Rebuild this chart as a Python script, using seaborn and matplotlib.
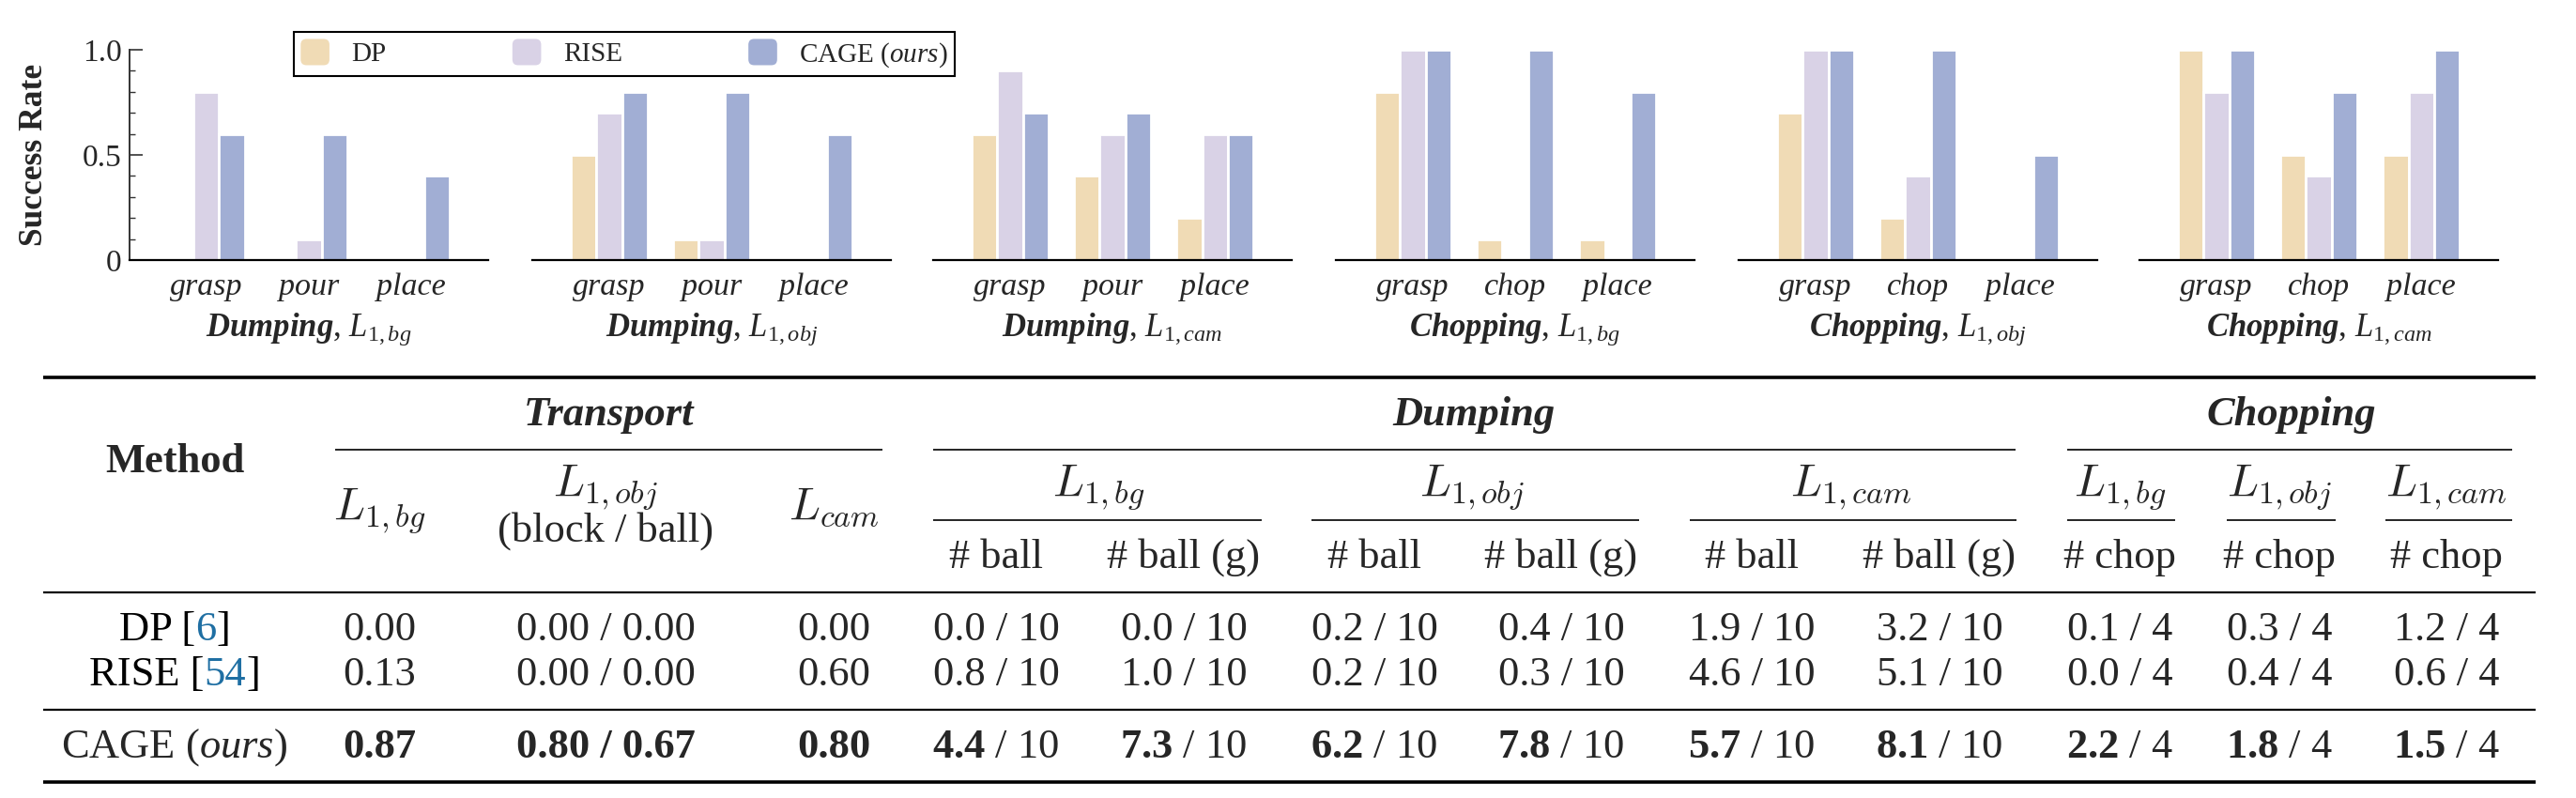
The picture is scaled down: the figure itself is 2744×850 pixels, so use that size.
import numpy as np
import pandas as pd
import matplotlib
matplotlib.use("Agg")
import matplotlib.pyplot as plt
import seaborn as sns
from matplotlib.patches import Patch, FancyBboxPatch
from matplotlib.legend_handler import HandlerPatch
from matplotlib.ticker import MultipleLocator

# ---- bar chart data ----
methods = ["DP", "RISE", "CAGE"]
legend_labels = ["DP", "RISE", r"CAGE ($\mathit{ours}$)"]
colors = ["#F0DBB5", "#D9D2E6", "#A1AED4"]

panel_task = ["Dumping", "Dumping", "Dumping", "Chopping", "Chopping", "Chopping"]
panel_level = ["1,bg", "1,obj", "1,cam", "1,bg", "1,obj", "1,cam"]
dump_stages = ["grasp", "pour", "place"]
chop_stages = ["grasp", "chop", "place"]

dp_rate = [[0.0, 0.0, 0.0], [0.5, 0.1, 0.0], [0.6, 0.4, 0.2],
           [0.8, 0.1, 0.1], [0.7, 0.2, 0.0], [1.0, 0.5, 0.5]]
rise_rate = [[0.8, 0.1, 0.0], [0.7, 0.1, 0.0], [0.9, 0.6, 0.6],
             [1.0, 0.0, 0.0], [1.0, 0.4, 0.0], [0.8, 0.4, 0.8]]
cage_rate = [[0.6, 0.6, 0.4], [0.8, 0.8, 0.6], [0.7, 0.7, 0.6],
             [1.0, 1.0, 0.8], [1.0, 1.0, 0.5], [1.0, 0.8, 1.0]]

# ---- table data ----
row_names = ["DP", "RISE", "CAGE"]
row_refs = ["6", "54", None]
tr_bg = ["0.00", "0.13", "0.87"]
tr_obj = ["0.00 / 0.00", "0.00 / 0.00", "0.80 / 0.67"]
tr_cam = ["0.00", "0.60", "0.80"]
dump_bg_ball = ["0.0", "0.8", "4.4"]
dump_bg_ballg = ["0.0", "1.0", "7.3"]
dump_obj_ball = ["0.2", "0.2", "6.2"]
dump_obj_ballg = ["0.4", "0.3", "7.8"]
dump_cam_ball = ["1.9", "4.6", "5.7"]
dump_cam_ballg = ["3.2", "5.1", "8.1"]
chop_bg = ["0.1", "0.0", "2.2"]
chop_obj = ["0.3", "0.4", "1.8"]
chop_cam = ["1.2", "0.6", "1.5"]

sns.set_theme(style="white")
plt.rcParams["font.family"] = ["Liberation Serif", "DejaVu Serif"]
plt.rcParams["mathtext.fontset"] = "custom"
plt.rcParams["mathtext.rm"] = "Liberation Serif"
plt.rcParams["mathtext.it"] = "Liberation Serif:italic"
plt.rcParams["mathtext.bf"] = "Liberation Serif:bold"
plt.rcParams["mathtext.bfit"] = "Liberation Serif:italic:bold"

W, H = 2744, 850
fig = plt.figure(figsize=(W / 100, H / 100), dpi=100)

lefts = [138, 567, 994, 1423, 1852, 2279]
ax_w, ax_top, ax_bot = 382, 53, 277

for i in range(6):
    stages = dump_stages if panel_task[i] == "Dumping" else chop_stages
    df = pd.DataFrame({
        "stage": stages * 3,
        "method": np.repeat(methods, 3),
        "rate": dp_rate[i] + rise_rate[i] + cage_rate[i],
    })
    ax = fig.add_axes([lefts[i] / W, 1 - ax_bot / H, ax_w / W, (ax_bot - ax_top) / H])
    sns.barplot(data=df, x="stage", y="rate", hue="method", hue_order=methods,
                order=stages, palette=colors, saturation=1, width=0.75,
                edgecolor="white", linewidth=2, legend=False, ax=ax)
    ax.set_xlim(-0.75, 2.75)
    ax.set_ylim(0, 1)
    ax.set_ylabel("")
    ax.set_xticks(range(3))
    ax.set_xticklabels(stages, fontstyle="italic", fontsize=24.5)
    ax.tick_params(axis="x", length=0, pad=10)
    ax.set_xlabel(rf"$\mathbfit{{{panel_task[i]}}}$, $L_{{\mathit{{{panel_level[i]}}}}}$",
                  fontsize=25, labelpad=7)
    for s in ["top", "right"]:
        ax.spines[s].set_visible(False)
    ax.spines["bottom"].set_color("black")
    ax.spines["bottom"].set_linewidth(1.6)
    if i == 0:
        ax.set_yticks([0, 0.5, 1.0], ["0", "0.5", "1.0"], fontsize=24)
        ax.yaxis.set_minor_locator(MultipleLocator(0.1))
        ax.tick_params(axis="y", which="major", direction="in", length=10, width=1.2,
                       color="#333333", pad=6, left=True)
        ax.tick_params(axis="y", which="minor", direction="in", length=4.5, width=1.0,
                       color="#333333", left=True)
        ax.spines["left"].set_color("#333333")
        ax.spines["left"].set_linewidth(1.4)
    else:
        ax.set_yticks([])
        ax.spines["left"].set_visible(False)

fig.text(37 / W, 1 - 165 / H, "Success Rate", rotation=90, fontsize=25.5,
         fontweight="bold", ha="center", va="center")


def rounded(legend, orig_handle, xdescent, ydescent, width, height, fontsize):
    return FancyBboxPatch((-xdescent, -ydescent), width, height,
                          boxstyle=f"round,pad=0,rounding_size={height * 0.22}")


handles = [Patch(facecolor=c, edgecolor="none") for c in colors]
leg = fig.legend(handles, legend_labels, loc="lower left",
                 bbox_to_anchor=(313 / W, 1 - 81 / H, (1017 - 313) / W, (81 - 34) / H),
                 mode="expand", ncol=3, fancybox=False, edgecolor="black",
                 fontsize=21, handlelength=1.05, handleheight=1.1, handletextpad=0.8,
                 borderpad=0.25, borderaxespad=0,
                 handler_map={Patch: HandlerPatch(patch_func=rounded)})
leg.get_frame().set_linewidth(1.5)
leg.get_frame().set_alpha(1)

# ---- table ----
tax = fig.add_axes([0, 0, 1, 1])
tax.set_xlim(0, W)
tax.set_ylim(H, 0)
tax.axis("off")

FS = 32
MFS = 35
blue = "#1f6fa3"
renderer = fig.canvas.get_renderer()


def seg_text(cx, y, parts, **kw):
    ts = [tax.text(0, y, s, color=c, ha="left", va="baseline", fontsize=FS, **kw) for s, c in parts]
    ws = [t.get_window_extent(renderer).width for t in ts]
    x = cx - sum(ws) / 2
    for t, w in zip(ts, ws):
        t.set_x(x)
        x += w


def txt(x, y, s, **kw):
    kw.setdefault("fontsize", FS)
    tax.text(x, y, s, ha="center", va="baseline", **kw)


# rules
tax.hlines([402, 833], 46, 2701, color="black", lw=2.6)
tax.hlines([631, 756], 46, 2701, color="black", lw=1.6)
for x0, x1 in [(357, 940), (994, 2147), (2202, 2676)]:
    tax.hlines(479, x0, x1, color="black", lw=1.2)
for x0, x1 in [(994, 1344), (1397, 1746), (1800, 2148), (2202, 2317), (2372, 2488), (2541, 2676)]:
    tax.hlines(554, x0, x1, color="black", lw=1.2)

# header
txt(186, 503, "Method", fontweight="bold")
txt(649, 453, "Transport", fontweight="bold", fontstyle="italic")
txt(1570, 453, "Dumping", fontweight="bold", fontstyle="italic")
txt(2441, 453, "Chopping", fontweight="bold", fontstyle="italic")

cm = dict(math_fontfamily="cm", fontsize=MFS)
txt(404, 553, r"$L_{1,bg}$", **cm)
txt(645, 528, r"$L_{1,obj}$", **cm)
txt(645, 577, "(block / ball)")
txt(888, 553, r"$L_{cam}$", **cm)
for cx, lv in [(1170, "1,bg"), (1568, "1,obj"), (1972, "1,cam"),
               (2258, "1,bg"), (2428, "1,obj"), (2606, "1,cam")]:
    txt(cx, 528, rf"$L_{{{lv}}}$", **cm)

sub_x = [1061, 1261, 1464, 1663, 1866, 2066, 2258, 2428, 2606]
sub_lab = ["# ball", "# ball (g)"] * 3 + ["# chop"] * 3
for cx, s in zip(sub_x, sub_lab):
    txt(cx, 605, s)

# body
row_y = [682, 730, 807]
dump_cols = [dump_bg_ball, dump_bg_ballg, dump_obj_ball, dump_obj_ballg, dump_cam_ball, dump_cam_ballg]
chop_cols = [chop_bg, chop_obj, chop_cam]
for r in range(3):
    y = row_y[r]
    best = r == 2
    if row_refs[r] is not None:
        seg_text(186, y, [(row_names[r] + " [", "black"), (row_refs[r], blue), ("]", "black")])
    else:
        txt(186, y, r"CAGE ($\mathit{ours}$)")
    w = "bold" if best else "normal"
    txt(404, y, tr_bg[r], fontweight=w)
    txt(645, y, tr_obj[r], fontweight=w)
    txt(888, y, tr_cam[r], fontweight=w)
    for cx, col in zip(sub_x[:6], dump_cols):
        s = rf"$\mathbf{{{col[r]}}}$ / 10" if best else f"{col[r]} / 10"
        txt(cx, y, s)
    for cx, col in zip(sub_x[6:], chop_cols):
        s = rf"$\mathbf{{{col[r]}}}$ / 4" if best else f"{col[r]} / 4"
        txt(cx, y, s)

fig.savefig("out.png", dpi=100)
